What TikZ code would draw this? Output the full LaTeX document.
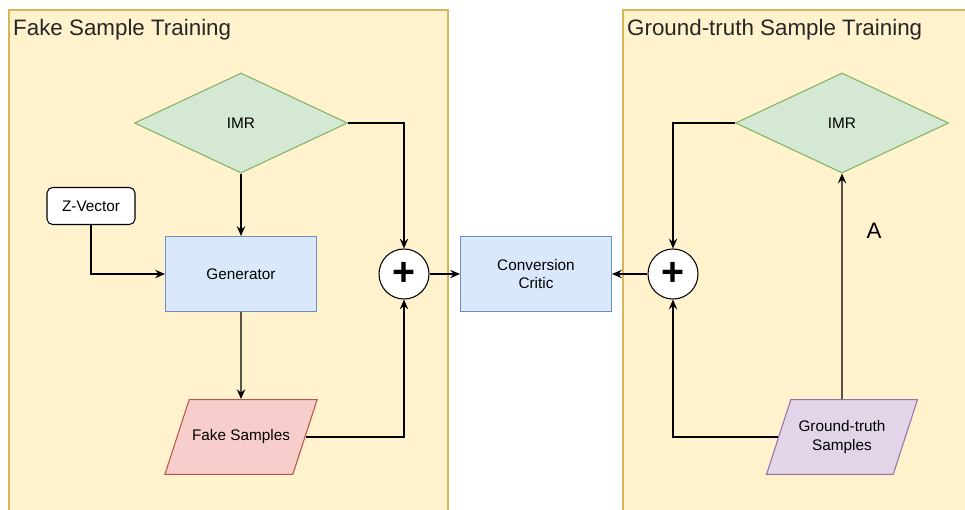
\documentclass[tikz,border=0pt]{standalone}
\usepackage{fontspec}
\setmainfont{Liberation Sans}
\usepackage{tikz}
\usetikzlibrary{arrows.meta,positioning,shapes.geometric}
\definecolor{PanelFill}{HTML}{FFF2CC}
\definecolor{PanelRule}{HTML}{D6B656}
\definecolor{ImrFill}{HTML}{D5E8D4}
\definecolor{ImrRule}{HTML}{82B366}
\definecolor{NetFill}{HTML}{DAE8FC}
\definecolor{NetRule}{HTML}{6C8EBF}
\definecolor{FakeFill}{HTML}{F8CECC}
\definecolor{FakeRule}{HTML}{B85450}
\definecolor{TrueFill}{HTML}{E1D5E7}
\definecolor{TrueRule}{HTML}{9673A6}

\begin{document}
\begin{tikzpicture}[x=0.025cm,y=-0.025cm,line width=0.75pt,
  txt/.style={font=\fontsize{10.9}{13}\selectfont,align=center},
  imrbox/.style={diamond,draw=ImrRule,fill=ImrFill,txt,inner sep=0pt,minimum width=5.325cm,minimum height=2.5cm},
  netbox/.style={rectangle,draw=NetRule,fill=NetFill,txt,minimum width=3.775cm,minimum height=1.875cm},
  databox/.style={trapezium,trapezium left angle=72,trapezium right angle=108,trapezium stretches body=true,txt,inner xsep=2pt,inner ysep=21.55pt,minimum width=3.775cm},
  sumnode/.style={circle,draw,fill=white,inner sep=0pt,minimum size=1.25cm,font=\fontsize{28}{28}\selectfont\bfseries},
  flow/.style={-{Stealth[length=7pt,width=6pt,inset=2.5pt]}}]
  \clip (0,0) rectangle (965,509);
  \draw[PanelRule,fill=PanelFill] (9,10) rectangle (448,520);
  \draw[PanelRule,fill=PanelFill] (623,10) rectangle (975,520);
  \node[anchor=west,font=\fontsize{15.9}{18}\selectfont,text=black!85] (fakeTitle) at (8,30) {Fake Sample Training};
  \node[anchor=west,font=\fontsize{15.9}{18}\selectfont,text=black!85] (trueTitle) at (622,30) {Ground-truth Sample Training};

  \node[imrbox] (imrL) at (241,123) {IMR};
  \node[draw,rounded corners=4pt,fill=white,txt,minimum width=2.2cm,minimum height=0.925cm] (zvec) at (91,206) {Z-Vector};
  \node[netbox] (gen) at (241,274) {Generator};
  \node[databox,draw=FakeRule,fill=FakeFill] (fake) at (241,437) {Fake Samples};
  \node[sumnode] (plusL) at (404,274) {+};
  \node[netbox] (critic) at (536,274) {Conversion\\Critic};
  \node[sumnode] (plusR) at (673,274) {+};
  \node[imrbox] (imrR) at (842,123) {IMR};
  \node[databox,inner ysep=15.05pt,draw=TrueRule,fill=TrueFill] (truth) at (842,437) {Ground-truth\\Samples};

  \draw[flow] (imrL.south) -- (gen.north);
  \draw[flow] (zvec.south) |- (gen.west);
  \draw[flow] (gen.south) -- (fake.north);
  \draw[flow] (imrL.east) -| (plusL.north);
  \draw[flow] (fake.east) -| (plusL.south);
  \draw[flow] (plusL.east) -- (critic.west);
  \draw[flow] (plusR.west) -- (critic.east);
  \draw[flow] (imrR.west) -| (plusR.north);
  \draw[flow] (truth.west) -| (plusR.south);
  \draw[flow] (truth.north) -- (imrR.south)
    node[pos=0.744,xshift=0.8cm,font=\fontsize{15.9}{18}\selectfont] (labA) {A};
\end{tikzpicture}
\end{document}
